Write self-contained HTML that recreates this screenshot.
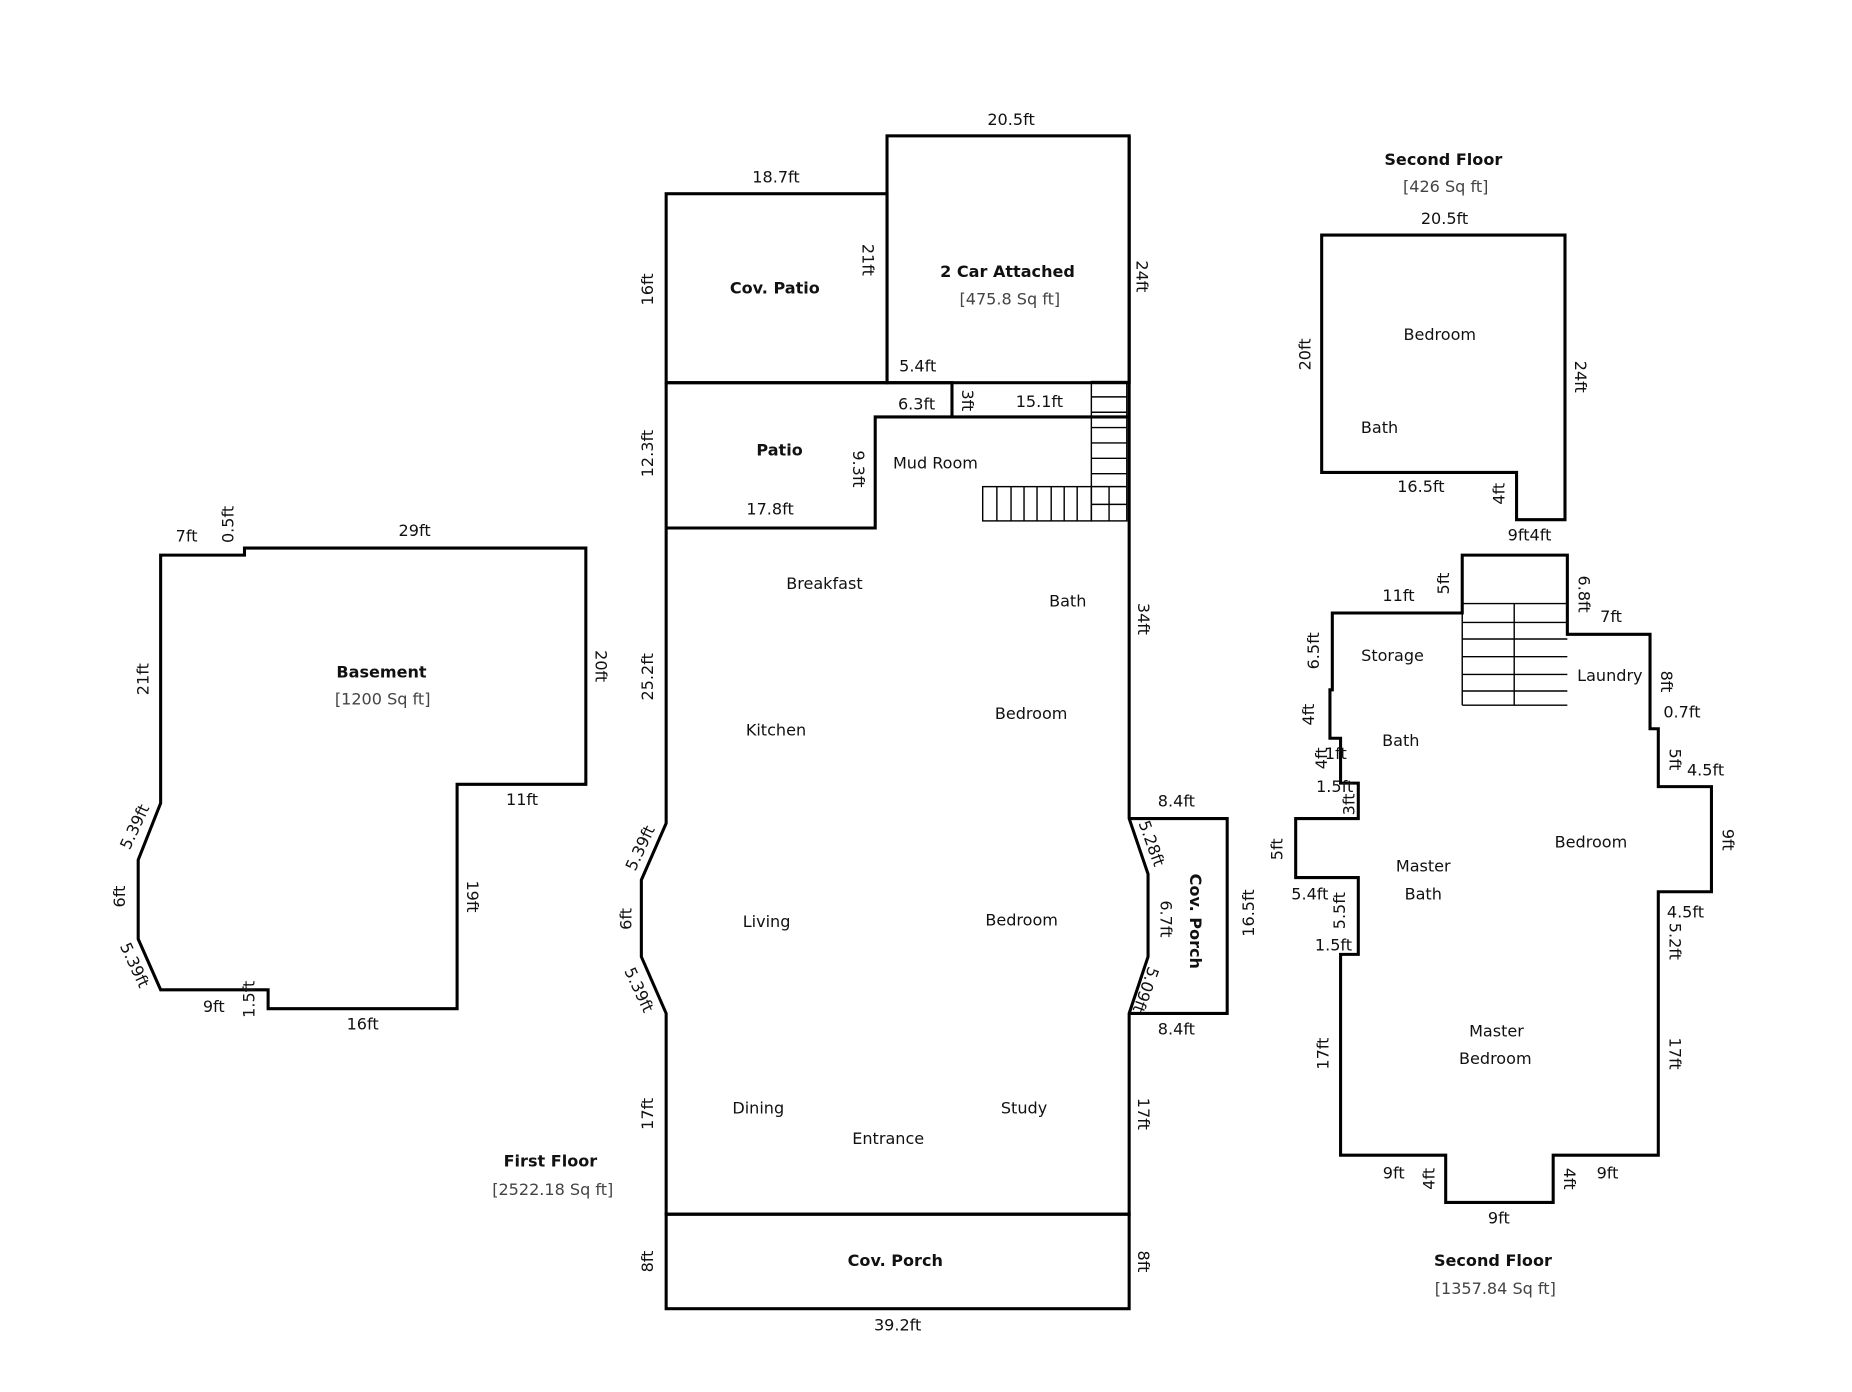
<!DOCTYPE html>
<html><head><meta charset="utf-8"><style>
html,body{margin:0;padding:0;background:#fff;}
svg{display:block;}
text{font-family:"DejaVu Sans","Liberation Sans",sans-serif;font-size:13.6px;fill:#111;text-anchor:middle;dominant-baseline:central;}
.b{font-weight:bold;}
.g{fill:#444;}
.w{fill:none;stroke:#000;stroke-width:2.6;stroke-linejoin:miter;}
.t{fill:none;stroke:#000;stroke-width:1.2;}
</style></head><body>
<svg width="1852" height="1392" viewBox="0 0 1568 1178.5" xmlns="http://www.w3.org/2000/svg">
<!-- First floor -->
<rect class="w" x="751" y="115" width="205" height="209"/>
<rect class="w" x="564" y="164" width="187" height="160"/>
<polyline class="w" points="564,324 806,324 806,353"/>
<polyline class="w" points="564,447 741,447 741,353 956,353"/>
<polyline class="w" points="564,324 564,697 543,745 543,810 564,858 564,1028 956,1028 956,858 972,810 972,740 956,693 956,115"/>
<rect class="w" x="564" y="1028" width="392" height="80"/>
<polyline class="w" points="956,693 1039,693 1039,858 956,858"/>
<!-- stairs -->
<rect class="t" x="924" y="323" width="30" height="118"/>
<g class="t">
<line x1="924" y1="336" x2="954" y2="336"/><line x1="924" y1="349" x2="954" y2="349"/><line x1="924" y1="362" x2="954" y2="362"/><line x1="924" y1="375" x2="954" y2="375"/><line x1="924" y1="388" x2="954" y2="388"/><line x1="924" y1="401" x2="954" y2="401"/><line x1="924" y1="412" x2="954" y2="412"/><line x1="924" y1="427" x2="954" y2="427"/><line x1="939" y1="412" x2="939" y2="441"/>
</g>
<rect class="t" x="832" y="412" width="92" height="29"/>
<g class="t">
<line x1="844" y1="412" x2="844" y2="441"/><line x1="856" y1="412" x2="856" y2="441"/><line x1="867" y1="412" x2="867" y2="441"/><line x1="878" y1="412" x2="878" y2="441"/><line x1="890" y1="412" x2="890" y2="441"/><line x1="901" y1="412" x2="901" y2="441"/><line x1="912" y1="412" x2="912" y2="441"/>
</g>
<!-- Basement -->
<polygon class="w" points="136,470 207,470 207,464 496,464 496,664 387,664 387,854 227,854 227,838 136,838 117,795 117,728 136,680"/>
<!-- Second floor top -->
<polygon class="w" points="1119,199 1325,199 1325,440 1284,440 1284,400 1119,400"/>
<!-- Second floor lower -->
<polygon class="w" points="1238,470 1327,470 1327,537 1397,537 1397,617 1404,617 1404,666 1449,666 1449,755 1404,755 1404,978 1315,978 1315,1018 1224,1018 1224,978 1135,978 1135,808 1150,808 1150,743 1097,743 1097,693 1150,693 1150,663 1135,663 1135,625 1126,625 1126,584 1128,584 1128,519 1238,519"/>
<g class="t">
<line x1="1238" y1="511" x2="1327" y2="511"/><line x1="1238" y1="527" x2="1327" y2="527"/><line x1="1238" y1="541" x2="1327" y2="541"/><line x1="1238" y1="556" x2="1327" y2="556"/><line x1="1238" y1="571" x2="1327" y2="571"/><line x1="1238" y1="585" x2="1327" y2="585"/><line x1="1238" y1="597" x2="1327" y2="597"/><line x1="1282" y1="511" x2="1282" y2="597"/><line x1="1238" y1="519" x2="1238" y2="597"/>
</g>

<!-- First floor labels -->
<text x="856" y="101">20.5ft</text>
<text x="657" y="150">18.7ft</text>
<text x="548" y="245" transform="rotate(-90 548 245)">16ft</text>
<text x="735" y="220" transform="rotate(90 735 220)">21ft</text>
<text x="967" y="234" transform="rotate(90 967 234)">24ft</text>
<text class="b" x="656" y="244">Cov. Patio</text>
<text class="b" x="853" y="230">2 Car Attached</text>
<text class="g" x="855" y="253">[475.8 Sq ft]</text>
<text x="777" y="310">5.4ft</text>
<text x="776" y="342">6.3ft</text>
<text x="819" y="339" transform="rotate(90 819 339)">3ft</text>
<text x="880" y="340">15.1ft</text>
<text x="548" y="384" transform="rotate(-90 548 384)">12.3ft</text>
<text class="b" x="660" y="381">Patio</text>
<text x="727" y="397" transform="rotate(90 727 397)">9.3ft</text>
<text x="792" y="392">Mud Room</text>
<text x="652" y="431">17.8ft</text>
<text x="698" y="494">Breakfast</text>
<text x="904" y="509">Bath</text>
<text x="968" y="524" transform="rotate(90 968 524)">34ft</text>
<text x="548" y="573" transform="rotate(-90 548 573)">25.2ft</text>
<text x="873" y="604">Bedroom</text>
<text x="657" y="618">Kitchen</text>
<text x="996" y="678">8.4ft</text>
<text x="542" y="718" transform="rotate(-65 542 718)">5.39ft</text>
<text x="975" y="714" transform="rotate(70 975 714)">5.28ft</text>
<text x="530" y="778" transform="rotate(-90 530 778)">6ft</text>
<text x="649" y="780">Living</text>
<text x="865" y="779">Bedroom</text>
<text x="987" y="778" transform="rotate(90 987 778)">6.7ft</text>
<text class="b" x="1012" y="780" transform="rotate(90 1012 780)">Cov. Porch</text>
<text x="1057" y="773" transform="rotate(-90 1057 773)">16.5ft</text>
<text x="541" y="838" transform="rotate(65 541 838)">5.39ft</text>
<text x="970" y="838" transform="rotate(110 970 838)">5.09ft</text>
<text x="996" y="871">8.4ft</text>
<text x="548" y="943" transform="rotate(-90 548 943)">17ft</text>
<text x="642" y="938">Dining</text>
<text x="867" y="938">Study</text>
<text x="968" y="943" transform="rotate(90 968 943)">17ft</text>
<text x="752" y="964">Entrance</text>
<text class="b" x="466" y="983">First Floor</text>
<text class="g" x="468" y="1007">[2522.18 Sq ft]</text>
<text x="548" y="1068" transform="rotate(-90 548 1068)">8ft</text>
<text class="b" x="758" y="1067">Cov. Porch</text>
<text x="968" y="1068" transform="rotate(90 968 1068)">8ft</text>
<text x="760" y="1122">39.2ft</text>

<!-- Basement labels -->
<text x="158" y="454">7ft</text>
<text x="193" y="444" transform="rotate(-90 193 444)">0.5ft</text>
<text x="351" y="449">29ft</text>
<text x="121" y="575" transform="rotate(-90 121 575)">21ft</text>
<text class="b" x="323" y="569">Basement</text>
<text class="g" x="324" y="592">[1200 Sq ft]</text>
<text x="509" y="564" transform="rotate(90 509 564)">20ft</text>
<text x="442" y="677">11ft</text>
<text x="114" y="700" transform="rotate(-65 114 700)">5.39ft</text>
<text x="101" y="759" transform="rotate(-90 101 759)">6ft</text>
<text x="400" y="759" transform="rotate(90 400 759)">19ft</text>
<text x="114" y="817" transform="rotate(65 114 817)">5.39ft</text>
<text x="181" y="852">9ft</text>
<text x="211" y="846" transform="rotate(-90 211 846)">1.5ft</text>
<text x="307" y="867">16ft</text>

<!-- Second floor top labels -->
<text class="b" x="1222" y="135">Second Floor</text>
<text class="g" x="1224" y="158">[426 Sq ft]</text>
<text x="1223" y="185">20.5ft</text>
<text x="1105" y="300" transform="rotate(-90 1105 300)">20ft</text>
<text x="1219" y="283">Bedroom</text>
<text x="1338" y="319" transform="rotate(90 1338 319)">24ft</text>
<text x="1168" y="362">Bath</text>
<text x="1203" y="412">16.5ft</text>
<text x="1269" y="418" transform="rotate(-90 1269 418)">4ft</text>
<text x="1295" y="453">9ft4ft</text>

<!-- Second floor lower labels -->
<text x="1184" y="504">11ft</text>
<text x="1222" y="494" transform="rotate(-90 1222 494)">5ft</text>
<text x="1341" y="503" transform="rotate(90 1341 503)">6.8ft</text>
<text x="1364" y="522">7ft</text>
<text x="1112" y="551" transform="rotate(-90 1112 551)">6.5ft</text>
<text x="1179" y="555">Storage</text>
<text x="1363" y="572">Laundry</text>
<text x="1411" y="577" transform="rotate(90 1411 577)">8ft</text>
<text x="1424" y="603">0.7ft</text>
<text x="1108" y="605" transform="rotate(-90 1108 605)">4ft</text>
<text x="1186" y="627">Bath</text>
<text x="1119" y="642" transform="rotate(-90 1119 642)">4ft</text>
<text x="1131" y="638">1ft</text>
<text x="1418" y="643" transform="rotate(90 1418 643)">5ft</text>
<text x="1444" y="652">4.5ft</text>
<text x="1130" y="666">1.5ft</text>
<text x="1142" y="681" transform="rotate(-90 1142 681)">3ft</text>
<text x="1081" y="719" transform="rotate(-90 1081 719)">5ft</text>
<text x="1347" y="713">Bedroom</text>
<text x="1463" y="711" transform="rotate(90 1463 711)">9ft</text>
<text x="1205" y="733">Master</text>
<text x="1205" y="757">Bath</text>
<text x="1109" y="757">5.4ft</text>
<text x="1134" y="771" transform="rotate(-90 1134 771)">5.5ft</text>
<text x="1427" y="772">4.5ft</text>
<text x="1418" y="797" transform="rotate(90 1418 797)">5.2ft</text>
<text x="1129" y="800">1.5ft</text>
<text x="1267" y="873">Master</text>
<text x="1266" y="896">Bedroom</text>
<text x="1120" y="892" transform="rotate(-90 1120 892)">17ft</text>
<text x="1418" y="892" transform="rotate(90 1418 892)">17ft</text>
<text x="1180" y="993">9ft</text>
<text x="1210" y="998" transform="rotate(-90 1210 998)">4ft</text>
<text x="1329" y="998" transform="rotate(90 1329 998)">4ft</text>
<text x="1361" y="993">9ft</text>
<text x="1269" y="1031">9ft</text>
<text class="b" x="1264" y="1067">Second Floor</text>
<text class="g" x="1266" y="1091">[1357.84 Sq ft]</text>
</svg>
</body></html>
